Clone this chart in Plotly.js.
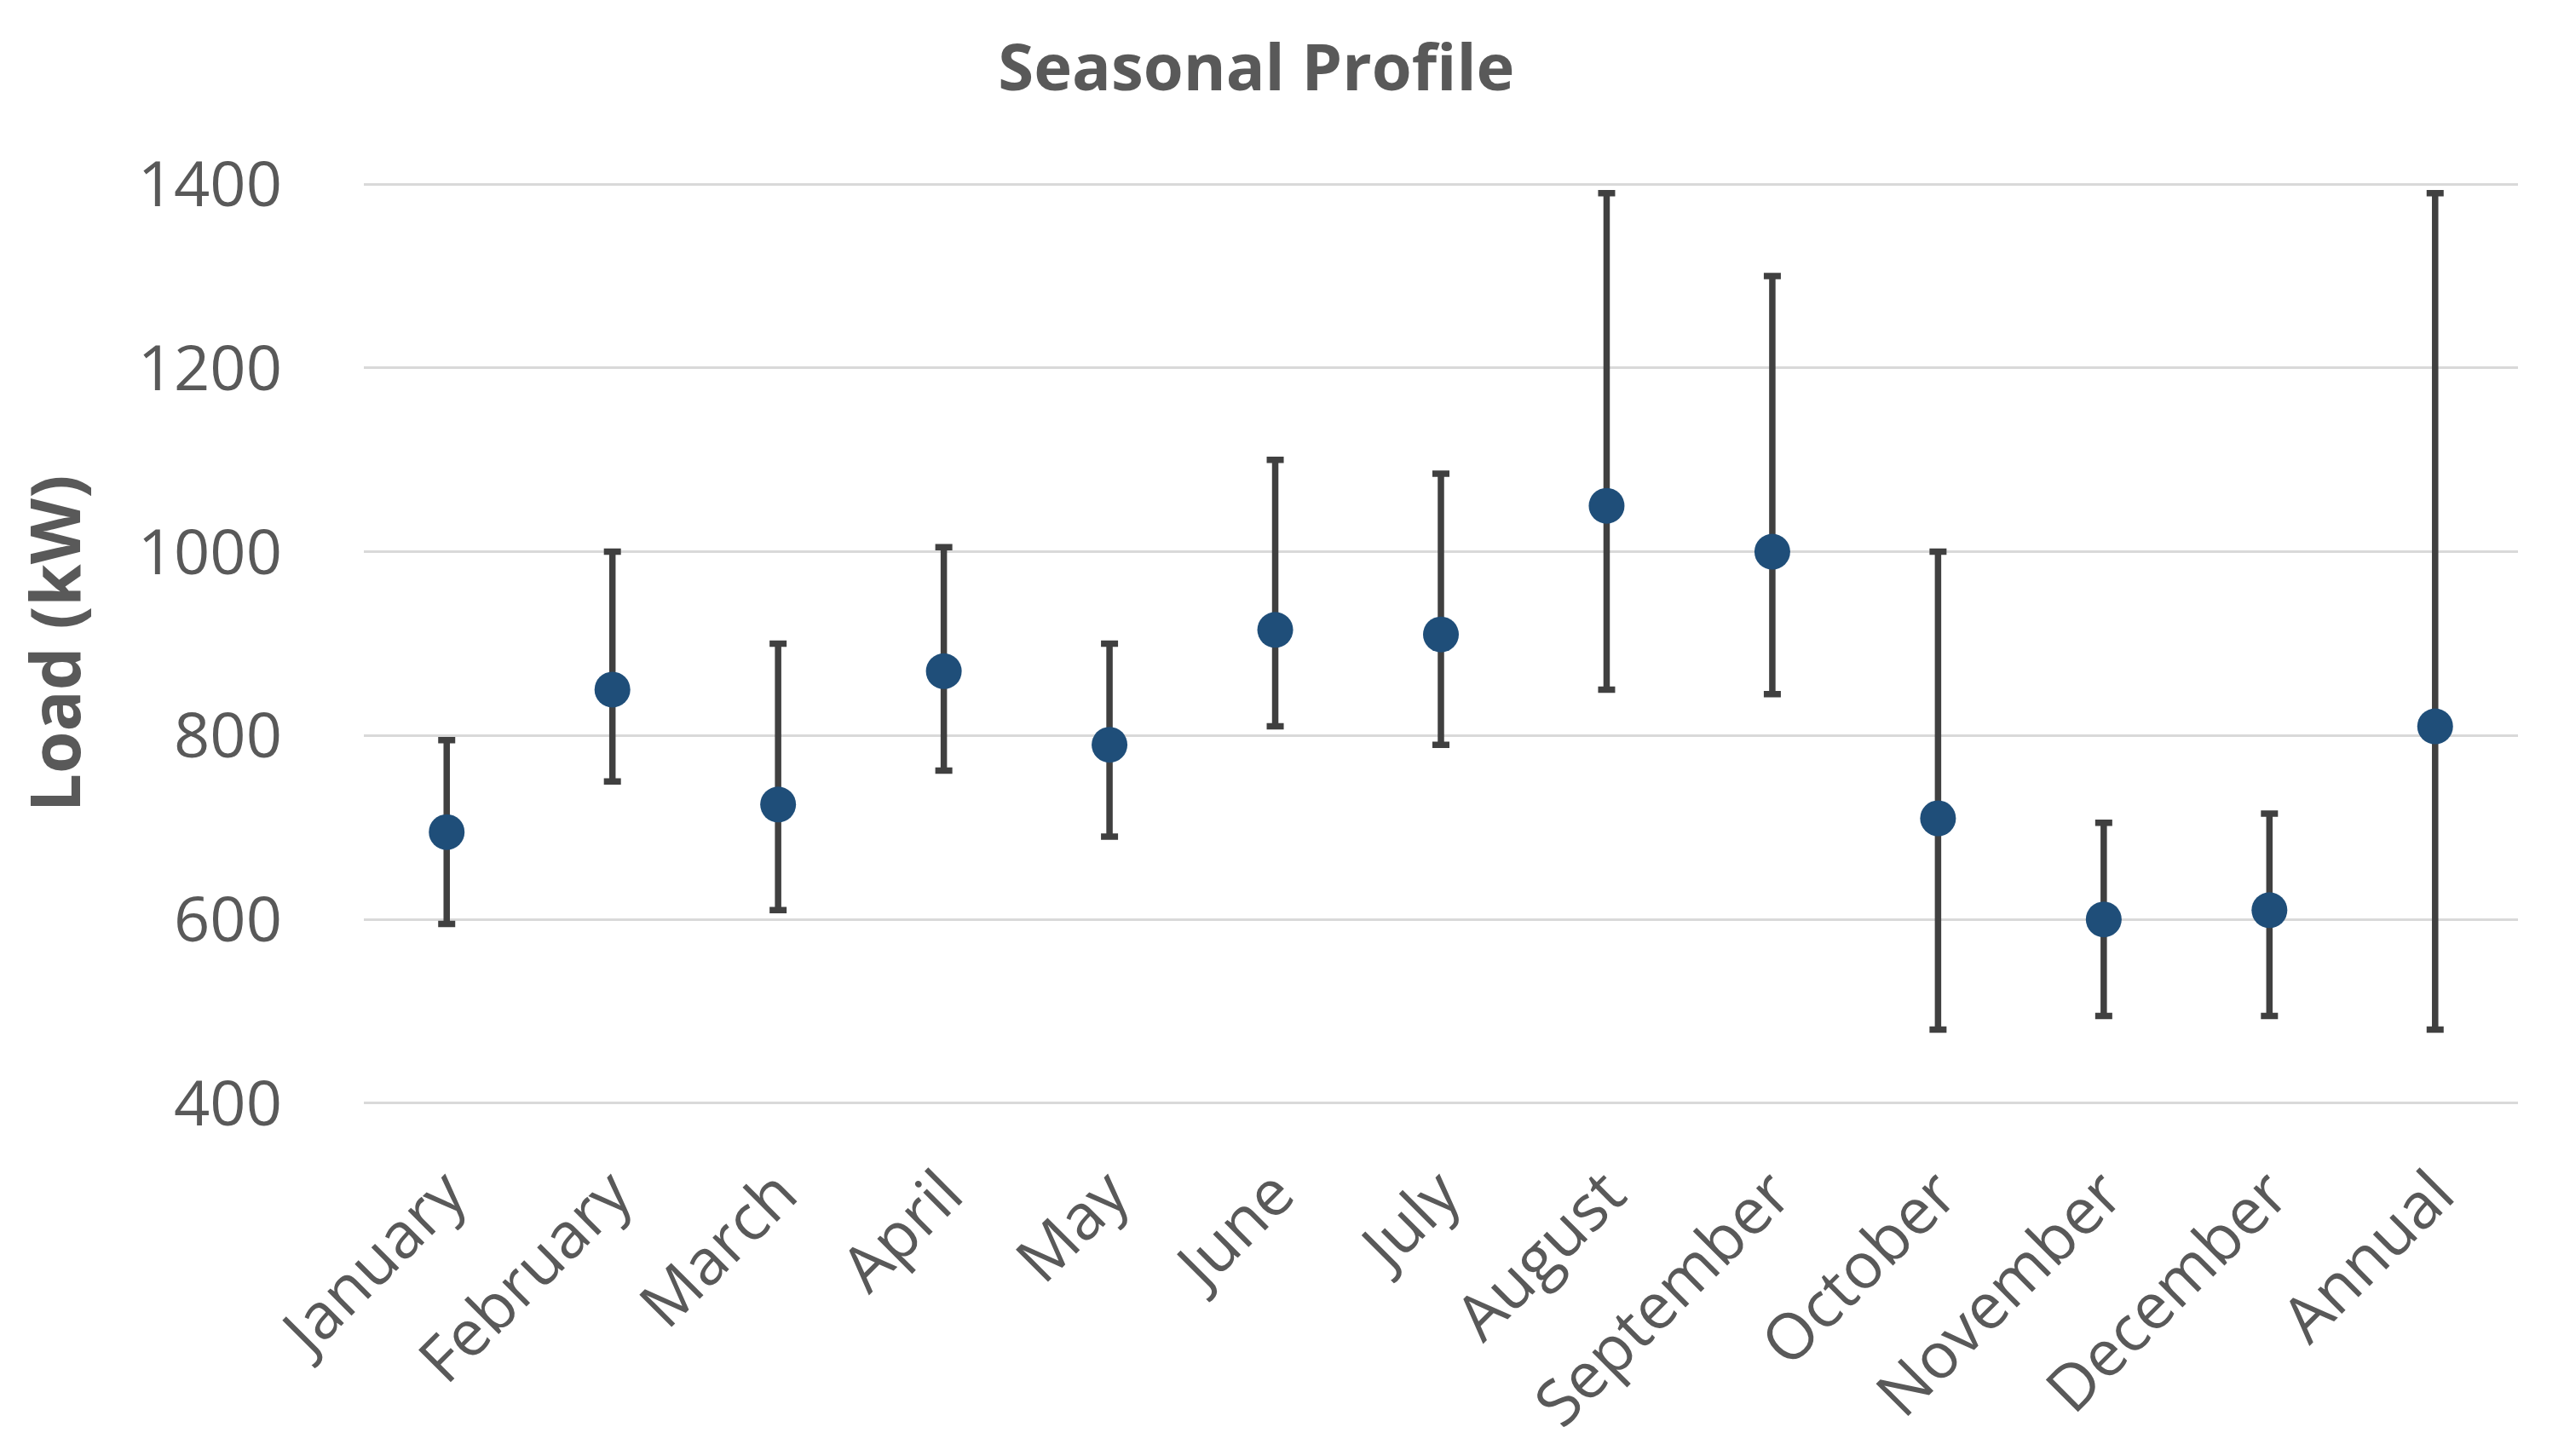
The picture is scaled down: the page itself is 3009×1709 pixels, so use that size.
<!DOCTYPE html>
<html>
<head>
<meta charset="utf-8">
<script src="https://cdn.plot.ly/plotly-3.0.1.min.js"></script>
<style>html,body{margin:0;padding:0;background:#fff;}#chart{width:3009px;height:1709px;}</style>
</head>
<body>
<div id="chart"></div>
<script>
const categories = ["January","February","March","April","May","June","July","August","September","October","November","December","Annual"];
const meanLoad = [695, 850, 725, 870, 790, 915, 910, 1050, 1000, 710, 600, 610, 810];
const maxLoad  = [795, 1000, 900, 1005, 900, 1100, 1085, 1390, 1300, 1000, 705, 715, 1390];
const minLoad  = [595, 750, 610, 762, 690, 810, 790, 850, 845, 480, 495, 495, 480];
const yTicks = [400, 600, 800, 1000, 1200, 1400];

const errPlus = maxLoad.map((v, i) => v - meanLoad[i]);
const errMinus = meanLoad.map((v, i) => v - minLoad[i]);

const trace = {
  type: 'scatter',
  mode: 'markers',
  x: categories,
  y: meanLoad,
  marker: {color: '#1F4E79', size: 42},
  error_y: {
    type: 'data', symmetric: false,
    array: errPlus, arrayminus: errMinus,
    color: '#404040', thickness: 7.5, width: 10
  },
  hoverinfo: 'x+y'
};

const layout = {
  width: 3009, height: 1709,
  paper_bgcolor: '#ffffff', plot_bgcolor: '#ffffff',
  margin: {l: 427, r: 54, t: 215, b: 413},
  showlegend: false,
  title: {
    text: '<b>Seasonal Profile</b>',
    font: {family: 'Open Sans', size: 76, color: '#595959'},
    x: 0.49, xref: 'container', xanchor: 'center',
    y: 1 - 79/1709, yref: 'container', yanchor: 'middle'
  },
  xaxis: {
    type: 'category',
    range: [-0.5, 12.5],
    tickangle: -45,
    tickfont: {family: 'Open Sans', size: 75, color: '#595959'},
    showgrid: false, zeroline: false,
    showline: false,
    ticks: '', ticklabelstandoff: 45
  },
  yaxis: {
    range: [399, 1401],
    tickvals: yTicks,
    ticktext: yTicks.map(String),
    tickfont: {family: 'Open Sans', size: 74, color: '#595959'},
    showgrid: true, gridcolor: '#D9D9D9', gridwidth: 3,
    zeroline: false, showline: false, ticks: '',
    ticklabelstandoff: 95,
    title: {text: '<b>Load (kW)</b>', font: {family: 'Open Sans', size: 80, color: '#595959'}, standoff: 40}
  }
};

Plotly.newPlot('chart', [trace], layout, {staticPlot: true, displayModeBar: false});
</script>
</body>
</html>
